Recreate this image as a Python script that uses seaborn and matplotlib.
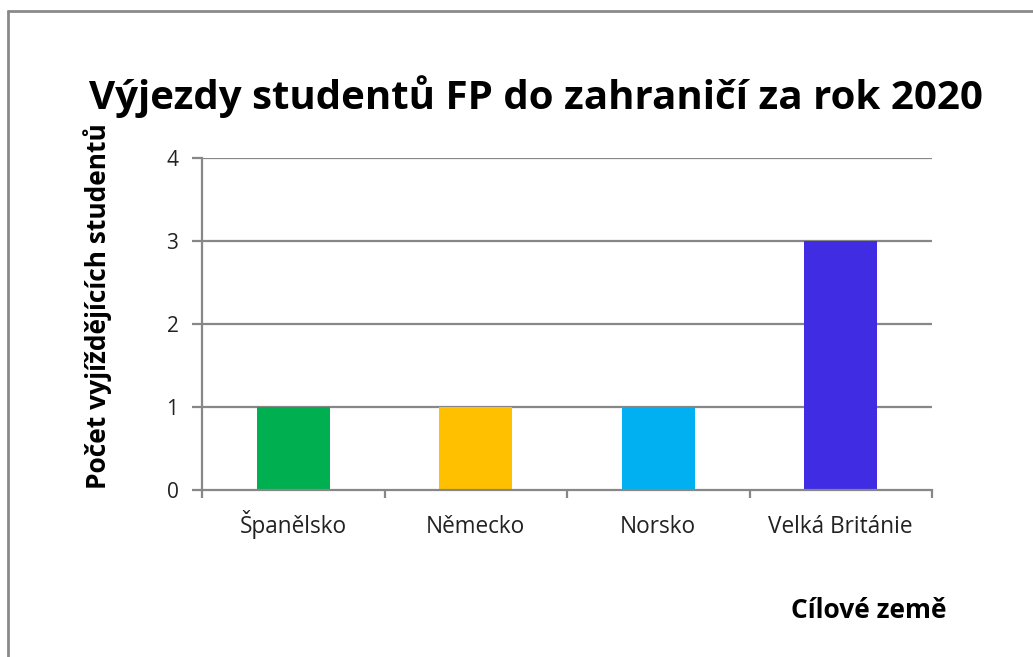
import matplotlib
matplotlib.use("Agg")
import matplotlib.pyplot as plt
import seaborn as sns
import pandas as pd
from matplotlib.lines import Line2D

countries = ["Španělsko", "Německo", "Norsko", "Velká Británie"]
students = [1, 1, 1, 3]
colors = ["#00B050", "#FFC000", "#00B0F0", "#402CE2"]
yticks = [0, 1, 2, 3, 4]

sns.set_theme(style="white")
plt.rcParams["font.family"] = ["Open Sans", "DejaVu Sans"]

df = pd.DataFrame({"country": countries, "students": students})

fig = plt.figure(figsize=(10.33, 6.57), dpi=100)
ax = fig.add_axes([202/1033, 1-490/657, (932-202)/1033, (490-158)/657])

sns.barplot(data=df, x="country", y="students", hue="country", palette=colors,
            width=0.4, legend=False, ax=ax, saturation=1, zorder=3, linewidth=0)

grid_c = "#878787"
ax.set_ylim(0, 4)
ax.set_xlim(-0.5, len(countries) - 0.5)
ax.set_yticks(yticks)
ax.set_yticklabels([str(t) for t in yticks], fontsize=15, color="#222222")
for t in yticks[1:]:
    ax.axhline(t, color=grid_c, lw=1.6, zorder=1)

ax.set_xticks([i - 0.5 for i in range(len(countries) + 1)], minor=True)
ax.set_xticks(range(len(countries)))
ax.set_xticklabels(countries, fontsize=16.3, color="#222222", va="baseline")
ax.tick_params(axis="x", which="major", bottom=False, length=0, pad=31)
ax.tick_params(axis="x", which="minor", bottom=True, length=6, width=1.6,
               color=grid_c, direction="out")
ax.tick_params(axis="y", left=True, length=7, width=1.6, color=grid_c,
               direction="out", pad=10)

for s in ["top", "right"]:
    ax.spines[s].set_visible(False)
for s in ["left", "bottom"]:
    ax.spines[s].set_color(grid_c)
    ax.spines[s].set_linewidth(1.6)
    ax.spines[s].set_zorder(4)

ax.set_xlabel("")
ax.set_ylabel("")

fig.text(536/1033, 1-97/657, "Výjezdy studentů FP do zahraničí za rok 2020",
         ha="center", va="center", fontsize=29, fontweight="bold", color="#000000")
fig.text(98/1033, 1-306/657, "Počet vyjíždějících studentů", rotation=90,
         ha="center", va="center", fontsize=19, fontweight="bold", color="#000000")
fig.text(869/1033, 1-611/657, "Cílové země", ha="center", va="center",
         fontsize=19, fontweight="bold", color="#000000")

fig.add_artist(Line2D([8/1033, 8/1033], [0, 1-11/657], transform=fig.transFigure,
                      color="#8a8a8a", lw=2))
fig.add_artist(Line2D([8/1033, 1], [1-11/657, 1-11/657], transform=fig.transFigure,
                      color="#8a8a8a", lw=2))

fig.savefig("out.png", dpi=100)
